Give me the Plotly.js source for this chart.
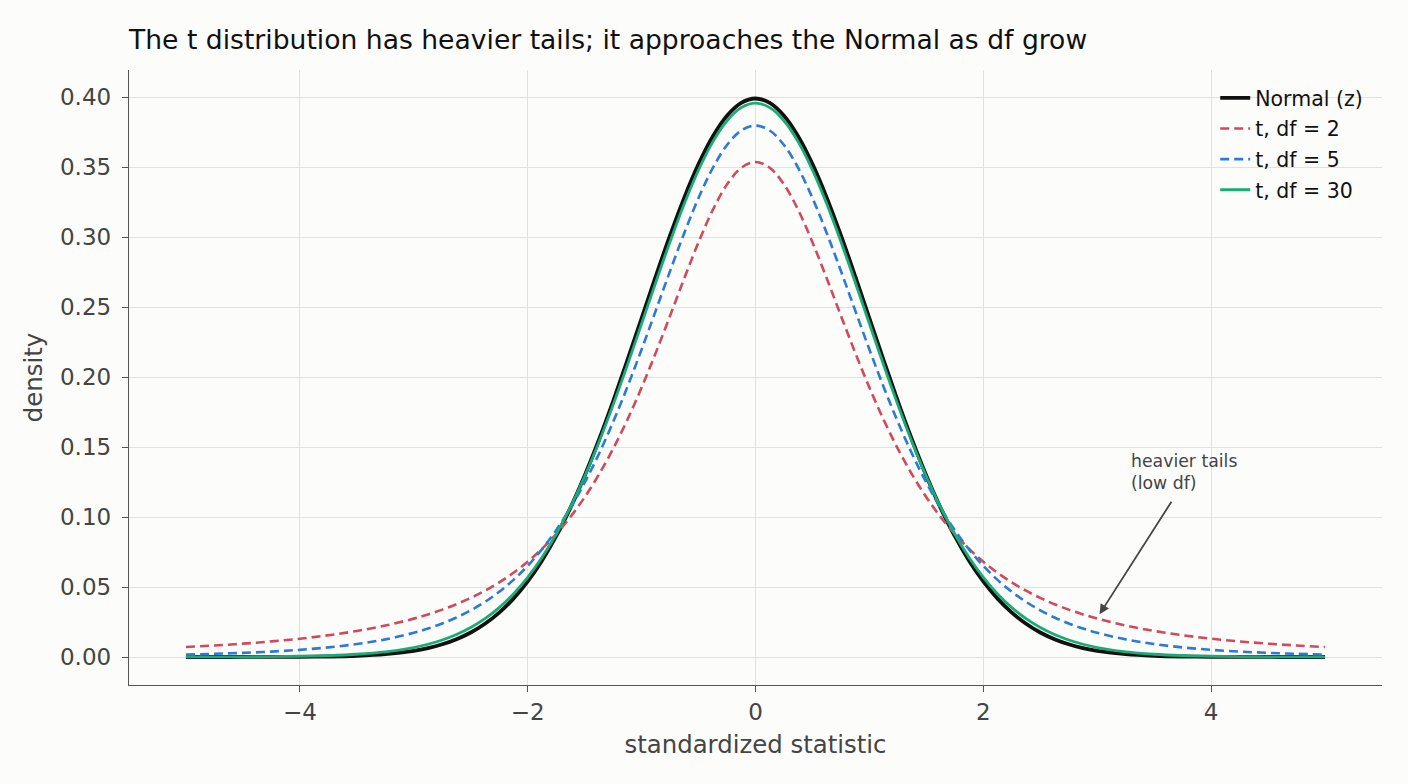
<!DOCTYPE html>
<html>
<head>
<meta charset="utf-8">
<script src="https://cdn.plot.ly/plotly-3.0.1.min.js"></script>
<style>
  html, body { margin: 0; padding: 0; background: #fcfcfa; }
  #chart { width: 1408px; height: 784px; }
</style>
</head>
<body>
<div id="chart"></div>
<script>
// Sample points on the positive half of the standardized statistic axis
const xHalf = [0, 0.125, 0.25, 0.375, 0.5, 0.625, 0.75, 0.875, 1, 1.125, 1.25, 1.375, 1.5, 1.625, 1.75, 1.875,
               2, 2.125, 2.25, 2.375, 2.5, 2.625, 2.75, 2.875, 3, 3.25, 3.5, 3.75, 4, 4.25, 4.5, 4.75, 5];

// Density values on 0 .. 5; each curve is symmetric about 0
const normalHalf = [0.39894, 0.39584, 0.38667, 0.37185, 0.35207, 0.32816, 0.30114, 0.27205, 0.24197, 0.21188, 0.18265,
                    0.15502, 0.12952, 0.10654, 0.08628, 0.06879, 0.05399, 0.04172, 0.03174, 0.02377, 0.01753, 0.01273,
                    0.00909, 0.00640, 0.00443, 0.00203, 0.00087, 0.00035, 0.00013, 0.00005, 0.00002, 0.00001, 0.0000015];
const t2Half     = [0.35355, 0.34945, 0.33760, 0.31929, 0.29630, 0.27054, 0.24378, 0.21743, 0.19245, 0.16945, 0.14872,
                    0.13031, 0.11413, 0.10003, 0.08779, 0.07720, 0.06804, 0.06013, 0.05328, 0.04735, 0.04220, 0.03772,
                    0.03382, 0.03040, 0.02741, 0.02246, 0.01859, 0.01553, 0.01309, 0.01113, 0.00953, 0.00821, 0.00713];
const t5Half     = [0.37961, 0.37607, 0.36572, 0.34930, 0.32792, 0.30292, 0.27570, 0.24758, 0.21968, 0.19291, 0.16790,
                    0.14504, 0.12452, 0.10638, 0.09054, 0.07684, 0.06509, 0.05507, 0.04657, 0.03939, 0.03333, 0.02822,
                    0.02393, 0.02033, 0.01729, 0.01259, 0.00924, 0.00685, 0.00512, 0.00387, 0.00295, 0.00227, 0.00176];
const t30Half    = [0.39563, 0.39245, 0.38307, 0.36797, 0.34788, 0.32374, 0.29664, 0.26770, 0.23800, 0.20851, 0.18010,
                    0.15342, 0.12896, 0.10701, 0.08768, 0.07102, 0.05684, 0.04502, 0.03528, 0.02738, 0.02106, 0.01605,
                    0.01213, 0.00910, 0.00678, 0.00369, 0.00196, 0.00102, 0.00052, 0.00027, 0.00013, 0.00007, 0.00003];

const seriesNames = ["Normal (z)", "t, df = 2", "t, df = 5", "t, df = 30"];
const xTicks = [-4, -2, 0, 2, 4];
const yTicks = [0, 0.05, 0.1, 0.15, 0.2, 0.25, 0.3, 0.35, 0.4];

// Reflect the 0..5 half onto -5..0 to get the full curve
function mirrorX(half) {
  return half.slice(1).reverse().map(v => -v).concat(half);
}
function mirrorY(half) {
  return half.slice(1).reverse().concat(half);
}
const xs = mirrorX(xHalf);

const styles = [
  { color: "#111111", width: 3.8 },
  { color: "#d1495b", width: 2.6, dash: "9px,5px" },
  { color: "#2b7bd6", width: 2.6, dash: "9px,5px" },
  { color: "#1aab7b", width: 2.8 }
];
const halves = [normalHalf, t2Half, t5Half, t30Half];

const traces = halves.map((half, i) => ({
  x: xs,
  y: mirrorY(half),
  name: seriesNames[i],
  type: "scatter",
  mode: "lines",
  legendgroup: "g" + i,
  line: Object.assign({ shape: "spline", smoothing: 1 }, styles[i])
}));

const axisCommon = {
  showgrid: true, gridcolor: "#e1e1e1", gridwidth: 1.2,
  zeroline: false, showline: true, linecolor: "#555555", linewidth: 1.4,
  ticks: "outside", ticklen: 6, tickwidth: 1.4, tickcolor: "#555555",
  tickfont: { family: "DejaVu Sans", size: 23, color: "#444444" },
  mirror: false
};

const layout = {
  width: 1408, height: 784,
  paper_bgcolor: "#fcfcfa", plot_bgcolor: "#fcfcfa",
  margin: { l: 129, r: 26, t: 70, b: 99 },
  title: {
    text: "The t distribution has heavier tails; it approaches the Normal as df grow",
    font: { family: "DejaVu Sans", size: 26.6, color: "#111111" },
    x: 0, xanchor: "left", xref: "paper",
    y: 1 - 40 / 784, yanchor: "middle", yref: "container"
  },
  xaxis: Object.assign({}, axisCommon, {
    range: [-5.5, 5.5], tickvals: xTicks,
    title: { text: "standardized statistic", font: { family: "DejaVu Sans", size: 24.4, color: "#444444" }, standoff: 12 }
  }),
  yaxis: Object.assign({}, axisCommon, {
    range: [-0.02, 0.4193], tickvals: yTicks, tickformat: ".2f", ticklabelstandoff: 6,
    title: { text: "density", font: { family: "DejaVu Sans", size: 24.4, color: "#444444" }, standoff: 10 }
  }),
  showlegend: true,
  legend: {
    x: 0.989, xanchor: "right", y: 0.987, yanchor: "top",
    bgcolor: "rgba(0,0,0,0)", borderwidth: 0,
    font: { family: "DejaVu Sans", size: 20.5, color: "#111111" },
    tracegroupgap: 1
  },
  annotations: [
    {
      x: 3.02, y: 0.0305, xref: "x", yref: "y",
      ax: 3.66, ay: 0.112, axref: "x", ayref: "y",
      text: "", showarrow: true, arrowhead: 2, arrowsize: 1.1, arrowwidth: 1.8, arrowcolor: "#444444"
    },
    {
      x: 3.282, y: 0.1157, xref: "x", yref: "y", xanchor: "left", yanchor: "bottom", align: "left",
      text: "heavier tails<br>(low df)", showarrow: false,
      font: { family: "DejaVu Sans", size: 17.3, color: "#444444" }
    }
  ]
};

Plotly.newPlot("chart", traces, layout, { displayModeBar: false, responsive: false });
</script>
</body>
</html>
